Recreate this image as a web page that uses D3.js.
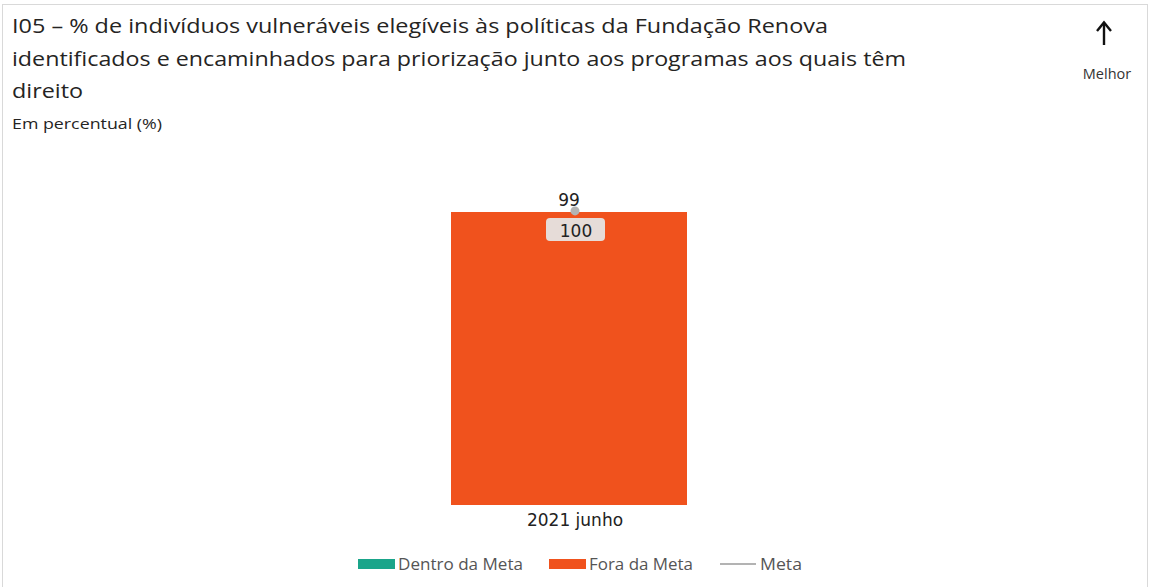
<!DOCTYPE html>
<html><head><meta charset="utf-8">
<script src="https://cdn.jsdelivr.net/npm/d3@7/dist/d3.min.js"></script>
<style>body{margin:0;background:#fff}svg{display:block}</style>
</head><body>
<script>
const titleLines = ["I05 – % de indivíduos vulneráveis elegíveis às políticas da Fundação Renova",
  "identificados e encaminhados para priorização junto aos programas aos quais têm",
  "direito"];
const subtitle = "Em percentual (%)";
const categories = ["2021 junho"];
const values = [100];
const meta = [99];
const status = ["Fora da Meta"];
const legendItems = ["Dentro da Meta", "Fora da Meta", "Meta"];

const W = 1150, H = 587;
const svg = d3.select("body").append("svg").attr("width", W).attr("height", H);
svg.append("rect").attr("x", 2.5).attr("y", 4.5).attr("width", 1145).attr("height", 590)
  .attr("fill", "#fff").attr("stroke", "#d9d9d9");

const titleFont = "'Open Sans', 'Noto Sans', sans-serif";
const tlen = [816, 894, 71];
titleLines.forEach((t, i) => {
  const el = svg.append("text").attr("x", 12).attr("y", 33 + i * 32.5)
    .attr("font-family", titleFont).attr("font-size", 20.5).attr("fill", "#252423").text(t);
  if (tlen[i]) el.attr("textLength", tlen[i]).attr("lengthAdjust", "spacingAndGlyphs");
});
svg.append("text").attr("x", 12).attr("y", 129).attr("font-family", titleFont)
  .attr("font-size", 14).attr("fill", "#252423").attr("textLength", 150)
  .attr("lengthAdjust", "spacingAndGlyphs").text(subtitle);

// Melhor arrow
svg.append("line").attr("x1", 1104).attr("x2", 1104).attr("y1", 45).attr("y2", 24)
  .attr("stroke", "#111").attr("stroke-width", 2.4);
svg.append("path").attr("d", "M1097,31 L1104,22.5 L1111,31").attr("fill", "none")
  .attr("stroke", "#111").attr("stroke-width", 2.4);
svg.append("text").attr("x", 1107).attr("y", 79).attr("text-anchor", "middle")
  .attr("font-family", titleFont).attr("font-size", 14.5).attr("fill", "#333").text("Melhor");

const colors = {"Dentro da Meta": "#1aa58a", "Fora da Meta": "#f0521d", "Meta": "#b3b3b3"};

const x = d3.scaleBand().domain(categories).range([451, 687]).padding(0);
const y = d3.scaleLinear().domain([0, 100]).range([505, 212]);

const g = svg.append("g");
g.selectAll("rect.bar").data(categories).join("rect").attr("class", "bar")
  .attr("x", d => x(d)).attr("width", x.bandwidth())
  .attr("y", (d, i) => y(values[i])).attr("height", (d, i) => y(0) - y(values[i]))
  .attr("fill", (d, i) => colors[status[i]]);

const labFont = "'DejaVu Sans', Verdana, sans-serif";
categories.forEach((c, i) => {
  const cx = x(c) + x.bandwidth() / 2 + 6;
  svg.append("rect").attr("x", cx - 29).attr("y", y(values[i]) + 6).attr("width", 59).attr("height", 23)
    .attr("rx", 4).attr("fill", "#e6dcd8");
  svg.append("text").attr("x", cx + 1).attr("y", y(values[i]) + 24.5).attr("text-anchor", "middle")
    .attr("font-family", labFont).attr("font-size", 17).attr("fill", "#222").text(values[i]);
  svg.append("circle").attr("cx", cx).attr("cy", y(meta[i]) - 4).attr("r", 4.5).attr("fill", "#b3b3b3");
  svg.append("text").attr("x", cx - 6).attr("y", y(meta[i]) - 9).attr("text-anchor", "middle")
    .attr("font-family", labFont).attr("font-size", 17).attr("fill", "#222").text(meta[i]);
});

const xAxis = svg.append("g").attr("transform", "translate(6,505)")
  .call(d3.axisBottom(x).tickSize(0).tickPadding(9));
xAxis.select(".domain").remove();
xAxis.selectAll("text").attr("font-family", labFont).attr("font-size", 17).attr("fill", "#222");

// legend
const legX = [358, 549, 720];
const textW = [125, 104, 42];
legendItems.forEach((d, i) => {
  if (d === "Meta") {
    svg.append("line").attr("x1", legX[i]).attr("x2", legX[i] + 36).attr("y1", 564).attr("y2", 564)
      .attr("stroke", colors[d]).attr("stroke-width", 2);
  } else {
    svg.append("rect").attr("x", legX[i]).attr("y", 559).attr("width", 37).attr("height", 10)
      .attr("fill", colors[d]);
  }
  svg.append("text").attr("x", legX[i] + 40).attr("y", 570).attr("font-family", titleFont)
    .attr("font-size", 15.5).attr("fill", "#555").attr("textLength", textW[i])
    .attr("lengthAdjust", "spacingAndGlyphs").text(d);
});
</script>
</body></html>
